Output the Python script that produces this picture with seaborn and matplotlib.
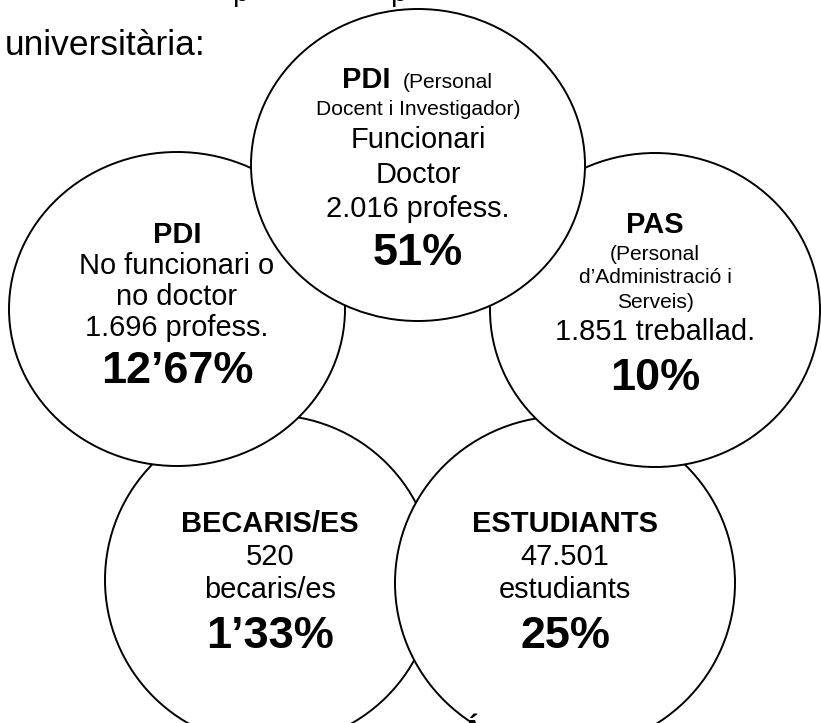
import matplotlib
matplotlib.use('Agg')
import matplotlib.pyplot as plt
from matplotlib.patches import Ellipse
import seaborn as sns

# --- data ---
groups = ["PDI", "PDI", "PAS", "BECARIS/ES", "ESTUDIANTS"]
notes = [["(Personal", "Docent i Investigador)"], [], ["(Personal", "d’Administració i", "Serveis)"], [], []]
descriptions = [["Funcionari", "Doctor"], ["No funcionari o", "no doctor"], [], [], []]
headcounts = ["2.016 profess.", "1.696 profess.", "1.851 treballad.", "520", "47.501"]
units = ["", "", "", "becaris/es", "estudiants"]
shares = ["51%", "12’67%", "10%", "1’33%", "25%"]
heading = "universitària:"

# --- layout (pixels, y down) ---
centers = [(418, 165), (177, 309), (655, 310), (270, 580), (565, 583)]
sizes = [(334, 312), (336, 314), (330, 314), (330, 330), (340, 334)]
draw_order = [3, 4, 1, 2, 0]  # bottom circles first, top circle last
# baselines of each text row per circle
baselines = [
    [88, 115, 148, 183, 217, 265],
    [243, 274, 305, 336, 383],
    [233, 260, 283, 308, 340, 390],
    [532, 565, 598, 648],
    [532, 565, 598, 648],
]

sns.set_theme(style="white")
plt.rcParams['font.family'] = ['Liberation Sans', 'DejaVu Sans']

fig = plt.figure(figsize=(8.21, 7.23), dpi=100)
ax = fig.add_axes([0, 0, 1, 1])
ax.set_xlim(0, 821)
ax.set_ylim(723, 0)
ax.axis('off')

for z, i in enumerate(draw_order):
    ax.add_patch(Ellipse(centers[i], sizes[i][0], sizes[i][1],
                         facecolor='white', edgecolor='black', lw=1.4, zorder=z + 1))

BIG = 20.9     # ~29 px
SMALL = 15.1   # ~21 px
HUGE = 32.4    # ~45 px

def put(x, y, s, size, bold=False, ha='center'):
    ax.text(x, y, s, fontsize=size, fontweight='bold' if bold else 'normal',
            ha=ha, va='baseline', color='black', zorder=20)

for i in range(len(groups)):
    x = centers[i][0]
    rows = baselines[i]
    if i == 0:
        # title and start of the note share one line
        put(x - 28, rows[0], groups[i], BIG, bold=True, ha='right')
        put(x - 15, rows[0], notes[i][0], SMALL, ha='left')
        extra = notes[i][1:]
    else:
        put(x, rows[0], groups[i], BIG, bold=True)
        extra = notes[i]
    k = 1
    for line in extra:
        put(x, rows[k], line, SMALL)
        k += 1
    for line in descriptions[i]:
        put(x, rows[k], line, BIG)
        k += 1
    put(x, rows[k], headcounts[i], BIG)
    k += 1
    if units[i]:
        put(x, rows[k], units[i], BIG)
        k += 1
    put(x, rows[k], shares[i], HUGE, bold=True)

# text cut by the page edges, as in the reference
put(5, 55, heading, 25.5, ha='left')
put(240, 1, "p", BIG, ha='center')
put(398, 1, "p", BIG, ha='center')
put(472, 740, "Á", BIG, bold=True)

fig.savefig("out.png", dpi=100)
plt.close(fig)
